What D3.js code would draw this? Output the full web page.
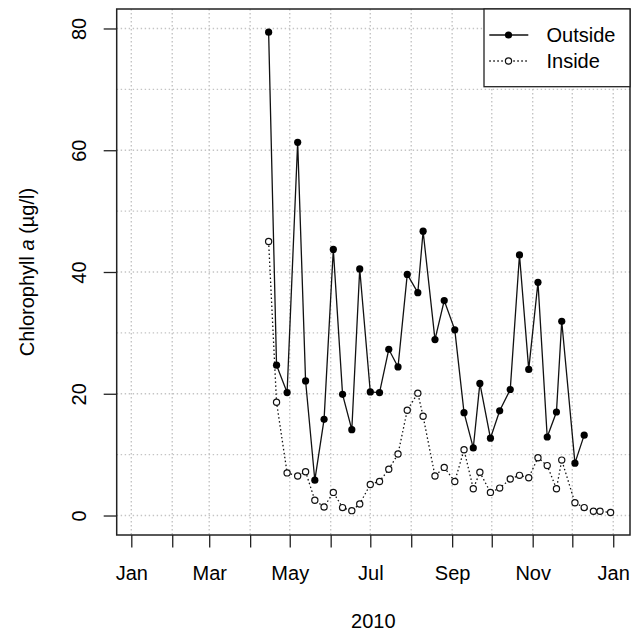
<!DOCTYPE html>
<html>
<head>
<meta charset="utf-8">
<script src="https://cdn.jsdelivr.net/npm/d3@7"></script>
<style>
  html, body { margin: 0; padding: 0; background: #fff; }
  svg { display: block; }
  text { font-family: "Liberation Sans", Arial, Helvetica, sans-serif; fill: #000; }
</style>
</head>
<body>
<svg id="chart" width="641" height="635"></svg>
<script>
// ---- data ----
const dates = ["2010-04-15","2010-04-21","2010-04-29","2010-05-07","2010-05-13","2010-05-20","2010-05-27",
  "2010-06-03","2010-06-10","2010-06-17","2010-06-23","2010-07-01","2010-07-08","2010-07-15","2010-07-22",
  "2010-07-29","2010-08-06","2010-08-10","2010-08-19","2010-08-26","2010-09-03","2010-09-10","2010-09-17",
  "2010-09-22","2010-09-30","2010-10-07","2010-10-15","2010-10-22","2010-10-29","2010-11-05","2010-11-12",
  "2010-11-19","2010-11-23","2010-12-03","2010-12-10","2010-12-17","2010-12-22","2010-12-30"];
const outside = [79.4,24.7,20.2,61.3,22.1,5.8,15.8,43.7,19.9,14.1,40.5,20.3,20.2,27.3,24.4,39.6,36.6,46.7,
  28.9,35.3,30.5,16.9,11.1,21.7,12.7,17.2,20.7,42.8,24.0,38.3,12.9,17.0,31.9,8.6,13.2,null,null,null];
const inside = [45.0,18.6,7.0,6.5,7.2,2.5,1.4,3.8,1.3,0.8,1.9,5.1,5.6,7.6,10.1,17.3,20.1,16.3,6.5,7.9,5.6,
  10.8,4.4,7.1,3.8,4.5,6.0,6.6,6.2,9.5,8.2,4.4,9.1,2.1,1.3,0.7,0.7,0.5];
const seriesNames = ["Outside", "Inside"];
const yTicks = [0, 20, 40, 60, 80];
const yGrid = [0, 10, 20, 30, 40, 50, 60, 70, 80];
const xTickMonths = ["2010-01-01","2010-02-01","2010-03-01","2010-04-01","2010-05-01","2010-06-01","2010-07-01",
  "2010-08-01","2010-09-01","2010-10-01","2010-11-01","2010-12-01","2011-01-01"];
const xTickLabels = ["Jan","","Mar","","May","","Jul","","Sep","","Nov","","Jan"];
const xTitle = "2010";

// ---- layout ----
const L = 116.7, R = 630, T = 9, B = 535;
const FS = 20;
const parse = d3.utcParse("%Y-%m-%d");
const day = 864e5;
const jan1 = parse("2010-01-01");
const x = d3.scaleUtc()
  .domain([new Date(+jan1 - 11.06 * day), new Date(+jan1 + 377.7 * day)])
  .range([L, R]);
const y = d3.scaleLinear().domain([-3.2, 83.2]).range([B, T]);

const svg = d3.select("#chart");
svg.append("rect").attr("width", 641).attr("height", 635).attr("fill", "#fff");

// grid
const grid = svg.append("g").attr("stroke", "#c4c4c4").attr("stroke-width", 1.4).attr("stroke-dasharray", "1.4,2.6");
grid.selectAll("line.h").data(yGrid).join("line")
  .attr("x1", L).attr("x2", R).attr("y1", d => y(d)).attr("y2", d => y(d));
grid.selectAll("line.v").data(xTickMonths).join("line")
  .attr("x1", d => x(parse(d))).attr("x2", d => x(parse(d))).attr("y1", T).attr("y2", B);

// axes
const xAxis = d3.axisBottom(x).tickValues(xTickMonths.map(parse))
  .tickFormat((d, i) => xTickLabels[i]).tickSizeOuter(0).tickSizeInner(12.5).tickPadding(8);
const gx = svg.append("g").attr("transform", `translate(0,${B})`).call(xAxis);
gx.select(".domain").remove();
gx.selectAll(".tick line").attr("stroke", "#222").attr("stroke-width", 1.3);
gx.selectAll(".tick text").attr("font-size", FS).attr("font-family", null).attr("dy", null)
  .attr("y", 45);

const yAxis = d3.axisLeft(y).tickValues(yTicks).tickSizeOuter(0).tickSizeInner(13).tickFormat(d3.format("d"));
const gy = svg.append("g").attr("transform", `translate(${L},0)`).call(yAxis);
gy.select(".domain").remove();
gy.selectAll(".tick line").attr("stroke", "#222").attr("stroke-width", 1.3);
gy.selectAll(".tick text").attr("font-size", FS).attr("font-family", null)
  .attr("x", null).attr("dy", null).attr("text-anchor", "middle")
  .attr("transform", "translate(-30.7,0) rotate(-90)");

// axis titles
svg.append("text").attr("x", (L + R) / 2).attr("y", 627.5).attr("text-anchor", "middle")
  .attr("font-size", FS).text(xTitle);
const yt = svg.append("text").attr("text-anchor", "middle").attr("font-size", FS)
  .attr("transform", `translate(33.5,${(T + B) / 2}) rotate(-90)`);
yt.append("tspan").text("Chlorophyll ");
yt.append("tspan").attr("font-style", "italic").text("a");
yt.append("tspan").text(" (\u00b5g/l)");

// series
const data = dates.map((d, i) => ({ date: parse(d), out: outside[i], ins: inside[i] }));
const lineIn = d3.line().defined(d => d.ins != null).x(d => x(d.date)).y(d => y(d.ins));
const lineOut = d3.line().defined(d => d.out != null).x(d => x(d.date)).y(d => y(d.out));

svg.append("path").datum(data).attr("d", lineIn).attr("fill", "none")
  .attr("stroke", "#111").attr("stroke-width", 1.3).attr("stroke-dasharray", "1.5,2.5");
svg.append("g").selectAll("circle").data(data.filter(d => d.ins != null)).join("circle")
  .attr("cx", d => x(d.date)).attr("cy", d => y(d.ins)).attr("r", 3.1)
  .attr("fill", "#fff").attr("stroke", "#111").attr("stroke-width", 1.2);

svg.append("path").datum(data).attr("d", lineOut).attr("fill", "none")
  .attr("stroke", "#111").attr("stroke-width", 1.3);
svg.append("g").selectAll("circle").data(data.filter(d => d.out != null)).join("circle")
  .attr("cx", d => x(d.date)).attr("cy", d => y(d.out)).attr("r", 3.6).attr("fill", "#000");

// box
svg.append("rect").attr("x", L).attr("y", T).attr("width", R - L).attr("height", B - T)
  .attr("fill", "none").attr("stroke", "#222").attr("stroke-width", 1.5);

// legend
const lg = svg.append("g");
lg.append("rect").attr("x", 484).attr("y", T).attr("width", R - 484).attr("height", 86.7 - T)
  .attr("fill", "#fff").attr("stroke", "#222").attr("stroke-width", 1.3);
const legendRows = [
  { name: seriesNames[0], dash: null, fill: "#000", r: 3.6 },
  { name: seriesNames[1], dash: "1.5,2.5", fill: "#fff", r: 3.1 }
];
legendRows.forEach((row, i) => {
  const cy = 35 + i * 26;
  lg.append("line").attr("x1", 489.3).attr("x2", 528.3).attr("y1", cy).attr("y2", cy)
    .attr("stroke", "#111").attr("stroke-width", 1.3).attr("stroke-dasharray", row.dash);
  lg.append("circle").attr("cx", 508.5).attr("cy", cy).attr("r", row.r)
    .attr("fill", row.fill).attr("stroke", "#111").attr("stroke-width", row.fill === "#fff" ? 1.2 : 0);
  lg.append("text").attr("x", 546.5).attr("y", cy + 7.3).attr("font-size", FS).text(row.name);
});
</script>
</body>
</html>
